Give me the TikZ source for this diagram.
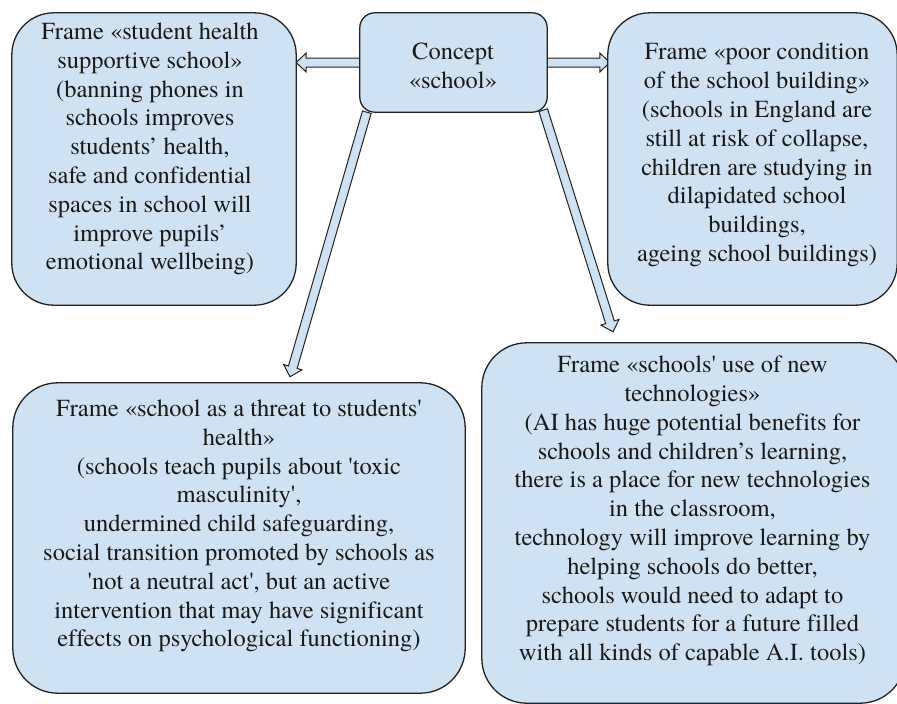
\documentclass[tikz,border=0pt]{standalone}
\usepackage{fontspec}
\newfontfamily\myfont{texgyretermes}[Extension=.otf, UprightFont=*-regular, Ligatures=NoCommon]
\usetikzlibrary{calc}
\definecolor{boxblue}{HTML}{CFE2F3}
\definecolor{edge}{HTML}{222222}
\tikzset{
  framebox/.style={draw=edge, line width=1.3pt, fill=boxblue, rounded corners=#1, inner sep=0pt},
  framebox/.default=42pt,
  frametext/.style={font=\myfont\fontsize{24.5}{28.8}\selectfont, align=center, text=black!90, inner sep=0pt},
  barrow/.style={draw=edge, line width=1pt, fill=boxblue, line join=miter}
}
\newcommand\blockarrow[2]{%
  \path[barrow] let \p1=(#1), \p2=(#2), \n1={atan2(\y2-\y1,\x2-\x1)}, \n2={veclen(\x2-\x1,\y2-\y1)} in
   [shift={(\p1)}, rotate=\n1] (0pt,-4.5pt) -- (\n2-10pt,-4.5pt) -- (\n2-10pt,-9.5pt) -- (\n2,0pt) -- (\n2-10pt,9.5pt) -- (\n2-10pt,4.5pt) -- (0pt,4.5pt) -- cycle;}
\begin{document}
\begin{tikzpicture}[x=1pt, y=-1pt]
\useasboundingbox (0,0) rectangle (897,704);
\clip (0,0) rectangle (897,704);
\fill[white] (0,0) rectangle (897,704);
\path (453.5,62.5) node[minimum width=187pt, minimum height=99pt, inner sep=0pt] (c) {};
\path (154,159) node[minimum width=284pt, minimum height=292pt, inner sep=0pt] (f1) {};
\path (752.5,159) node[minimum width=289pt, minimum height=292pt, inner sep=0pt] (f2) {};
\path (239,538) node[minimum width=452pt, minimum height=310pt, inner sep=0pt] (f3) {};
\path (693.5,523) node[minimum width=423pt, minimum height=360pt, inner sep=0pt] (f4) {};
\blockarrow{c.west}{c.west -| f1.east}
\blockarrow{c.east}{$(c.east -| f2.west)+(2,0)$}
\blockarrow{$(c.south west)+(7,0)$}{$(f3.north)+(51,-6)$}
\blockarrow{$(c.south east)+(-4,-2)$}{$(f4.north)+(-80.5,-11)$}
\draw[framebox=15pt] (c.north west) rectangle (c.south east);
\draw[framebox] (f1.north west) rectangle (f1.south east);
\draw[framebox] (f2.north west) rectangle (f2.south east);
\draw[framebox=45pt] (f3.north west) rectangle (f3.south east);
\draw[framebox=45pt] (f4.north west) rectangle (f4.south east);
\node[frametext] (ct) at (453,66) {Concept\\«school»};
\node[frametext] (f1t) at (150,149) {Frame «student health\\supportive school»\\(banning phones in\\schools improves\\students’ health,\\safe and confidential\\spaces in school will\\improve pupils’\\emotional wellbeing)};
\node[frametext] (f2t) at (757,155) {Frame «poor condition\\of the school building»\\(schools in England are\\still at risk of collapse,\\children are studying in\\dilapidated school\\buildings,\\ageing school buildings)};
\node[frametext] (f3t) at (239,526) {Frame «school as a threat to students'\\health»\\(schools teach pupils about 'toxic\\masculinity',\\undermined child safeguarding,\\social transition promoted by schools as\\'not a neutral act', but an active\\intervention that may have significant\\effects on psychological functioning)};
\node[frametext] (f4t) at (692.5,511) {Frame «schools' use of new\\technologies»\\(AI has huge potential benefits for\\schools and children’s learning,\\there is a place for new technologies\\in the classroom,\\technology will improve learning by\\helping schools do better,\\schools would need to adapt to\\prepare students for a future filled\\with all kinds of capable A.I. tools)};
\end{tikzpicture}
\end{document}
